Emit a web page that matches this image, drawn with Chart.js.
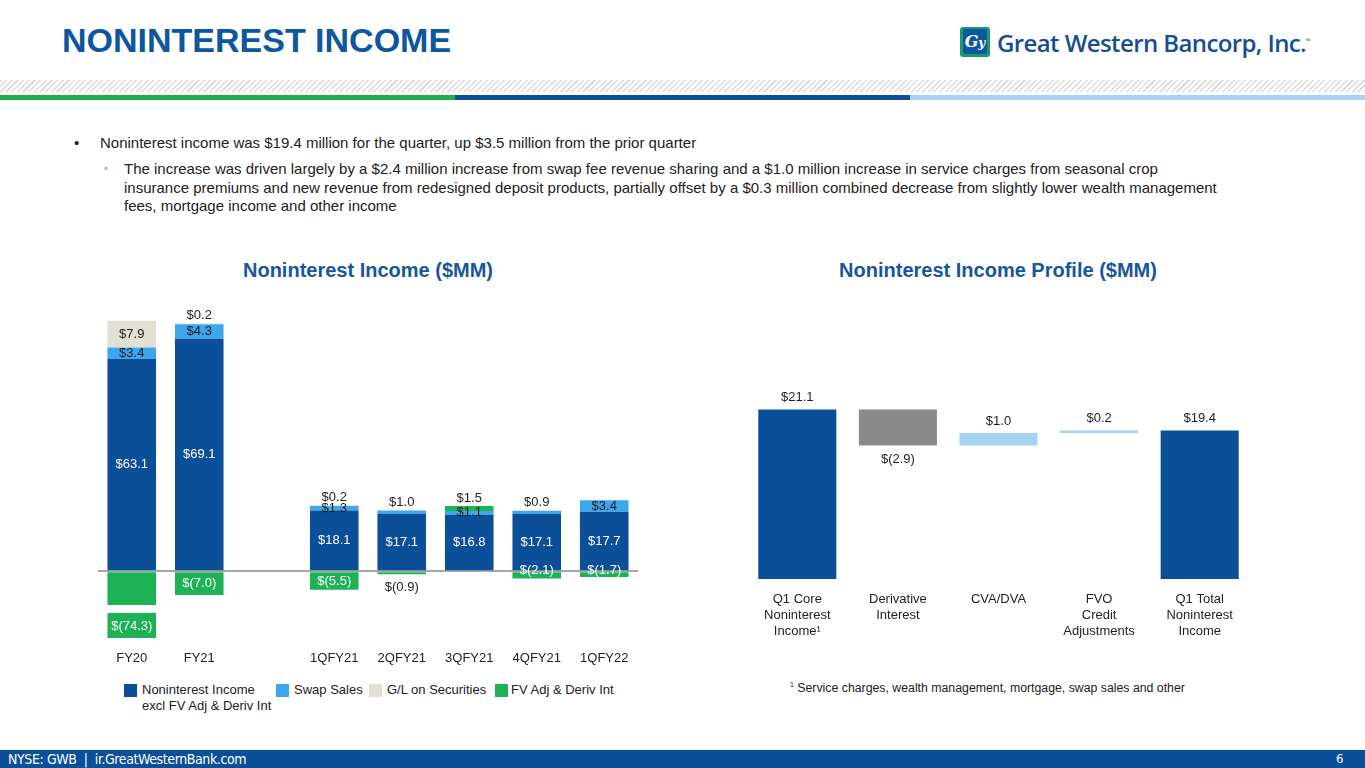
<!DOCTYPE html>
<html>
<head>
<meta charset="utf-8">
<script src="https://cdn.jsdelivr.net/npm/chart.js@4.4.1/dist/chart.umd.min.js"></script>
<style>
  html, body { margin:0; padding:0; }
  body { width:1365px; height:768px; position:relative; overflow:hidden; background:#fff; font-family:"Liberation Sans", Arial, sans-serif; color:#222; }
  .abs { position:absolute; }
  #title { left:62px; top:21px; font-size:34px; font-weight:bold; color:#0d56a0; letter-spacing:0px; white-space:nowrap; }
  #logoBox { left:960px; top:27px; width:30px; height:30px; background:#1a9a6a; border-radius:3px; }
  #logoBox span { position:absolute; left:3px; top:2px; width:24px; height:25px; background:#0d56a0; border-radius:2px; color:#fff; font-family:"DejaVu Serif", serif; font-style:italic; font-weight:bold; font-size:16px; line-height:25px; text-align:center; }
  #logoText { left:997px; top:26px; font-family:"Open Sans", sans-serif; font-weight:600; font-size:24px; color:#164f91; letter-spacing:-0.6px; white-space:nowrap; }
  #logoText sup { font-size:6px; }
  #hatch { left:0; top:80px; width:1365px; height:12px; background:repeating-linear-gradient(135deg, #dcdcdc 0 1.5px, #fff 1.5px 4px); }
  .band { top:95px; height:5px; }
  .b1 { left:74px; top:134px; font-size:15px; }
  .t1 { left:100px; top:134px; font-size:15px; white-space:nowrap; }
  .b2 { left:104px; top:161px; font-size:12px; }
  .t2 { left:124px; top:160px; font-size:15px; line-height:18.5px; white-space:nowrap; }
  .ctitle { top:259px; font-size:20px; font-weight:bold; color:#17569d; white-space:nowrap; transform:translateX(-50%); }
  .leg { font-size:13px; color:#222; white-space:nowrap; line-height:16px; }
  .sq { width:13px; height:13px; top:684px; }
  #foot { left:790px; top:681px; font-size:12.3px; color:#222; white-space:nowrap; }
  #footer { left:0; top:750px; width:1365px; height:18px; background:#0a4f98; }
  #footer .l { position:absolute; left:8px; top:1px; font-family:"DejaVu Sans Condensed","Liberation Sans Narrow",sans-serif; font-size:14px; color:#fff; letter-spacing:-0.4px; }
  #footer .r { position:absolute; left:1336px; top:1px; font-family:"DejaVu Sans Condensed",sans-serif; font-size:13px; color:#fff; }
  canvas { position:absolute; }
</style>
</head>
<body>
<div id="title" class="abs">NONINTEREST INCOME</div>
<div id="logoBox" class="abs"><span>G<span style="position:static;background:none;font-size:12px">y</span></span></div>
<div id="logoText" class="abs">Great Western Bancorp, Inc.<sup>™</sup></div>
<div id="hatch" class="abs"></div>
<div class="abs band" style="left:0;width:455px;background:#22ae4f"></div>
<div class="abs band" style="left:455px;width:455px;background:#0a4f98"></div>
<div class="abs band" style="left:910px;width:455px;background:#a8d4f2"></div>

<div class="abs b1">•</div>
<div class="abs t1">Noninterest income was $19.4 million for the quarter, up $3.5 million from the prior quarter</div>
<div class="abs b2">◦</div>
<div class="abs t2">The increase was driven largely by a $2.4 million increase from swap fee revenue sharing and a $1.0 million increase in service charges from seasonal crop<br>insurance premiums and new revenue from redesigned deposit products, partially offset by a $0.3 million combined decrease from slightly lower wealth management<br>fees, mortgage income and other income</div>

<div class="abs ctitle" style="left:368px">Noninterest Income ($MM)</div>
<div class="abs ctitle" style="left:998px">Noninterest Income Profile ($MM)</div>

<canvas id="left" width="540" height="380" style="left:98px;top:292px;width:540px;height:380px"></canvas>
<canvas id="right" width="503" height="253" style="left:747px;top:386px;width:503px;height:253px"></canvas>

<div class="abs sq" style="left:124px;background:#0a4f98"></div>
<div class="abs leg" style="left:142px;top:682px">Noninterest Income<br>excl FV Adj &amp; Deriv Int</div>
<div class="abs sq" style="left:276px;background:#3ea6ec"></div>
<div class="abs leg" style="left:294px;top:682px">Swap Sales</div>
<div class="abs sq" style="left:369px;background:#e2dfd3"></div>
<div class="abs leg" style="left:387px;top:682px">G/L on Securities</div>
<div class="abs sq" style="left:495px;background:#1db256"></div>
<div class="abs leg" style="left:511px;top:682px">FV Adj &amp; Deriv Int</div>

<div id="foot" class="abs"><sup style="font-size:7px">1</sup> Service charges, wealth management, mortgage, swap sales and other</div>

<div id="footer" class="abs"><span class="l">NYSE: GWB &nbsp;|&nbsp; ir.GreatWesternBank.com</span><span class="r">6</span></div>

<script>
// ---------- Data: left chart ----------
const categories = ['FY20', 'FY21', '', '1QFY21', '2QFY21', '3QFY21', '4QFY21', '1QFY22'];
const coreIncome = [63.1, 69.1, null, 18.1, 17.1, 16.8, 17.1, 17.7];
const swapSales = [3.4, 4.3, null, 1.3, 1.0, 1.1, 0.9, 3.4];
const glSecurities = [7.9, 0.2, null, 0.2, null, null, null, null];
const fvAdjDeriv = [-74.3, -7.0, null, -5.5, -0.9, 1.5, -2.1, -1.7];

// ---------- Data: right chart ----------
const profileLabels = [['Q1 Core', 'Noninterest', 'Income¹'], ['Derivative', 'Interest'], ['CVA/DVA'], ['FVO', 'Credit', 'Adjustments'], ['Q1 Total', 'Noninterest', 'Income']];
const profileSteps = [21.1, -2.9, 1.0, 0.2, 19.4];
const profileKinds = ['total', 'delta', 'delta', 'delta', 'total'];

// ---------- Label placement (style) ----------
const coreLabelPlace = ['mid', 'mid', null, 'mid', 'mid', 'mid', 'mid', 'mid'];
const swapLabelPlace = ['mid', 'mid', null, 'mid', 'above', 'mid', 'above', 'mid'];
const glLabelPlace = ['mid', 'above', null, 'above', null, null, null, null];
const fvLabelPlace = ['box', 'mid', null, 'mid', 'below', 'above', 'midHigh', 'midHigh'];

const C = { blue: '#0a4f98', swap: '#3ea6ec', gl: '#e2dfd3', green: '#1db256', gray: '#8a8a8a', light: '#a3d3f0', dark: '#1e1e1e' };
const FONT = '"Liberation Sans", Arial, sans-serif';

function fmt(v) { return v < 0 ? '$(' + (-v).toFixed(1) + ')' : '$' + v.toFixed(1); }

const leftLabelPlugin = {
  id: 'leftLabels',
  afterDatasetsDraw(chart) {
    const ctx = chart.ctx;
    const places = [coreLabelPlace, swapLabelPlace, glLabelPlace, fvLabelPlace];
    ctx.save();
    ctx.font = '13px ' + FONT;
    ctx.textAlign = 'center';
    ctx.textBaseline = 'middle';
    chart.data.datasets.forEach((ds, di) => {
      const meta = chart.getDatasetMeta(di);
      meta.data.forEach((el, i) => {
        const v = ds.data[i];
        const place = places[di][i];
        if (v == null || !place) return;
        const top = Math.min(el.y, el.base), bot = Math.max(el.y, el.base);
        let y, color = (di === 0 || di === 3) ? '#ffffff' : C.dark;
        if (place === 'mid') y = (top + bot) / 2;
        else if (place === 'midHigh') y = chart.scales.y.getPixelForValue(0) - 1;
        else if (place === 'above') { y = top - 8; color = C.dark; }
        else if (place === 'below') { y = bot + 13; color = C.dark; }
        else if (place === 'box') {
          const bx = el.x - el.width / 2, by = chart.chartArea.bottom + 8;
          ctx.fillStyle = C.green;
          ctx.fillRect(bx, by, el.width, 25);
          y = by + 13; color = '#ffffff';
        }
        ctx.fillStyle = color;
        ctx.fillText(fmt(v), el.x, y);
      });
    });
    ctx.restore();
  }
};

new Chart(document.getElementById('left'), {
  type: 'bar',
  data: {
    labels: categories,
    datasets: [
      { label: 'Noninterest Income excl FV Adj & Deriv Int', data: coreIncome, backgroundColor: C.blue, clip: 0 },
      { label: 'Swap Sales', data: swapSales, backgroundColor: C.swap, clip: 0 },
      { label: 'G/L on Securities', data: glSecurities, backgroundColor: C.gl, clip: 0 },
      { label: 'FV Adj & Deriv Int', data: fvAdjDeriv, backgroundColor: C.green, clip: 0 }
    ]
  },
  options: {
    responsive: false, animation: false,
    layout: { padding: { top: 10, left: 0, right: 0, bottom: 0 } },
    datasets: { bar: { categoryPercentage: 1, barPercentage: 0.72, borderWidth: 0 } },
    plugins: { legend: { display: false }, tooltip: { enabled: false } },
    scales: {
      x: {
        stacked: true,
        grid: { display: false, drawTicks: false },
        border: { display: false },
        ticks: { color: '#222', font: { family: FONT, size: 13 }, padding: 46, maxRotation: 0, autoSkip: false },
        afterFit: s => { s.height = 67; s.paddingLeft = 0; s.paddingRight = 0; }
      },
      y: {
        stacked: true, min: -10, max: 80,
        ticks: { display: false, stepSize: 10 },
        border: { display: false },
        grid: { drawTicks: false, lineWidth: 2, color: c => c.tick && c.tick.value === 0 ? '#a6a6a6' : 'rgba(0,0,0,0)' },
        afterFit: s => { s.width = 0; }
      }
    }
  },
  plugins: [leftLabelPlugin]
});

// ---------- Right chart (waterfall) ----------
const floating = [];
let run = 0;
profileSteps.forEach((v, i) => {
  if (profileKinds[i] === 'total') { floating.push([0, v]); run = v; }
  else { floating.push([run, run + v]); run = run + v; }
});
const profileColors = profileSteps.map((v, i) => profileKinds[i] === 'total' ? C.blue : (v < 0 ? C.gray : C.light));

const rightLabelPlugin = {
  id: 'rightLabels',
  afterDatasetsDraw(chart) {
    const ctx = chart.ctx;
    ctx.save();
    ctx.font = '13px ' + FONT;
    ctx.textAlign = 'center';
    ctx.textBaseline = 'middle';
    ctx.fillStyle = C.dark;
    chart.getDatasetMeta(0).data.forEach((el, i) => {
      const v = profileSteps[i];
      const top = Math.min(el.y, el.base), bot = Math.max(el.y, el.base);
      const y = v < 0 ? bot + 14 : top - 12;
      ctx.fillText(fmt(v), el.x, y);
    });
    ctx.restore();
  }
};

new Chart(document.getElementById('right'), {
  type: 'bar',
  data: {
    labels: profileLabels,
    datasets: [{ label: 'Profile', data: floating, backgroundColor: profileColors, borderWidth: 0, clip: 0 }]
  },
  options: {
    responsive: false, animation: false,
    layout: { padding: { top: 10, left: 0, right: 0, bottom: 0 } },
    datasets: { bar: { categoryPercentage: 1, barPercentage: 0.776 } },
    plugins: { legend: { display: false }, tooltip: { enabled: false } },
    scales: {
      x: {
        grid: { display: false, drawTicks: false },
        border: { display: false },
        ticks: { color: '#222', font: { family: FONT, size: 13, lineHeight: 1.23 }, padding: 12, maxRotation: 0, autoSkip: false },
        afterFit: s => { s.height = 60; s.paddingLeft = 0; s.paddingRight = 0; }
      },
      y: {
        min: 7.4, max: 22.2,
        display: false
      }
    }
  },
  plugins: [rightLabelPlugin]
});
</script>
</body>
</html>
